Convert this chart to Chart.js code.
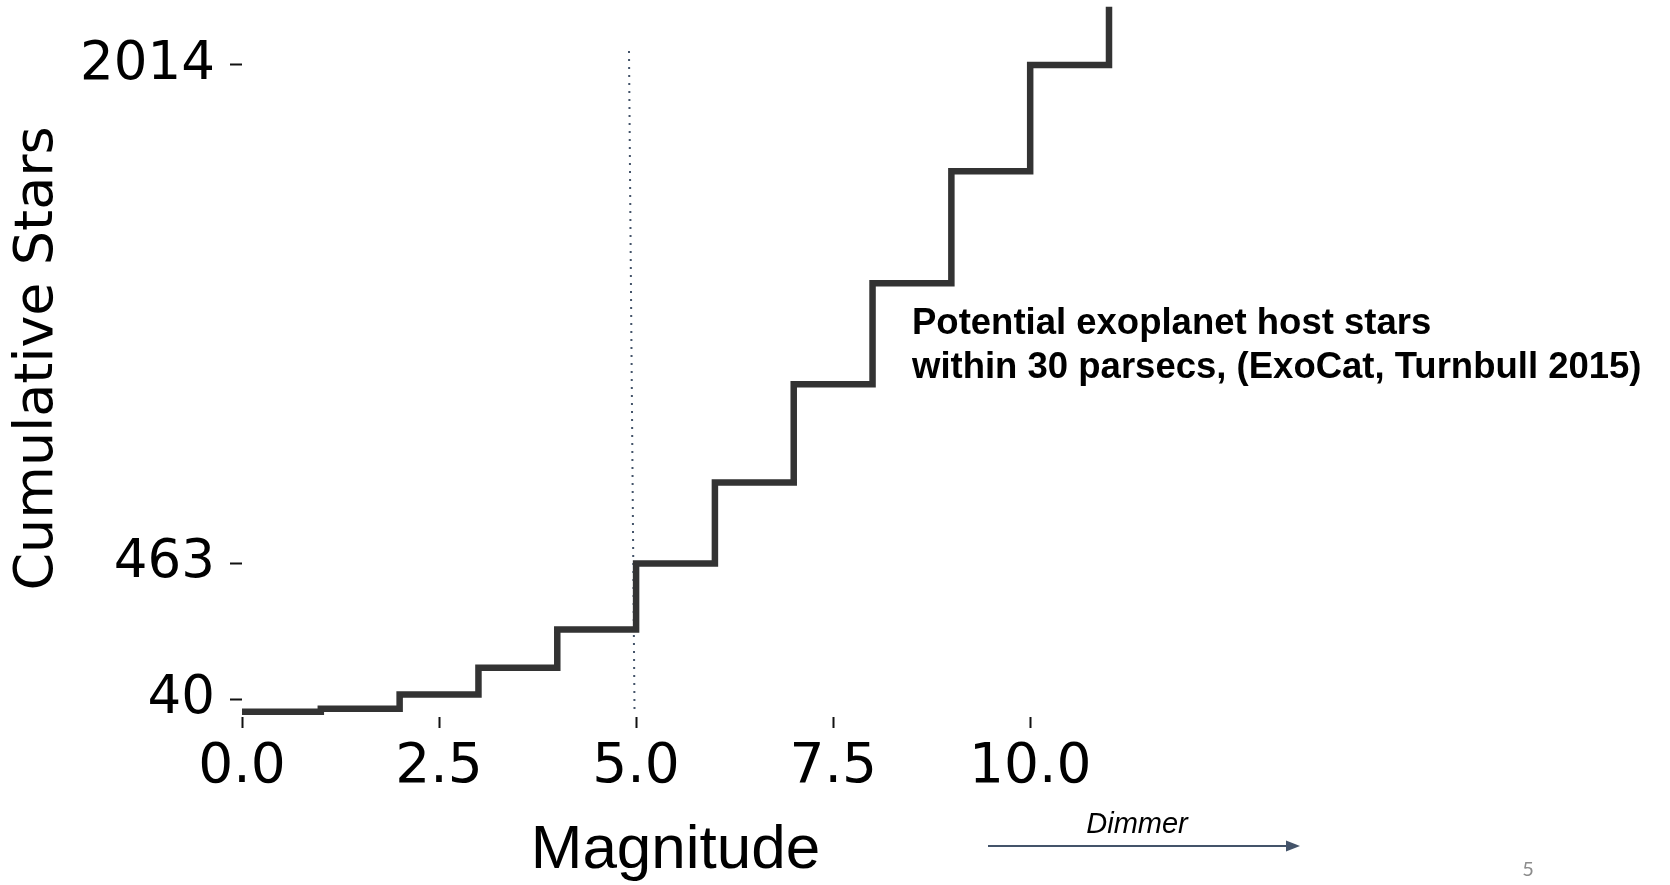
<!DOCTYPE html>
<html>
<head>
<meta charset="utf-8">
<script src="https://cdn.jsdelivr.net/npm/chart.js@4.4.1/dist/chart.umd.min.js"></script>
<style>
  html, body { margin: 0; padding: 0; background: #ffffff; }
  #wrap { width: 1670px; height: 885px; position: relative; }
</style>
</head>
<body>
<div id="wrap"><canvas id="c" width="1670" height="885"></canvas></div>
<script>
// ---- data ----
const magnitudes      = [0, 1, 2, 3, 4, 5, 6, 7, 8, 9, 10, 11];
const cumulativeStars = [1, 11, 55, 138, 257, 463, 715, 1020, 1335, 1683, 2014, 2195];
const xTickValues     = [0, 2.5, 5, 7.5, 10];
const yTickValues     = [40, 463, 2014];
const sunMarkerX      = [4.91, 4.98];
const sunMarkerY      = [2057, 0];
const noteLines       = ['Potential exoplanet host stars', 'within 30 parsecs, (ExoCat, Turnbull 2015)'];
const arrowLabel      = 'Dimmer';
const pageNumber      = '5';

const stepPoints = magnitudes.map((m, i) => ({ x: m, y: cumulativeStars[i] }));
const sunPoints  = sunMarkerX.map((x, i) => ({ x: x, y: sunMarkerY[i] }));

const overlayPlugin = {
  id: 'overlay',
  afterDraw(chart) {
    const ctx = chart.ctx;
    ctx.save();
    // annotation text
    ctx.fillStyle = '#000000';
    ctx.font = 'bold 36.5px "Liberation Sans", Arial, sans-serif';
    ctx.textAlign = 'left';
    ctx.textBaseline = 'alphabetic';
    ctx.fillText(noteLines[0], 912, 334);
    ctx.fillText(noteLines[1], 912, 378);
    // Dimmer label
    ctx.font = 'italic 29px "Liberation Sans", Arial, sans-serif';
    ctx.textAlign = 'center';
    ctx.fillText(arrowLabel, 1137, 833);
    // arrow
    ctx.strokeStyle = '#44546A';
    ctx.fillStyle = '#44546A';
    ctx.lineWidth = 2;
    ctx.beginPath();
    ctx.moveTo(988, 846);
    ctx.lineTo(1288, 846);
    ctx.stroke();
    ctx.beginPath();
    ctx.moveTo(1300, 846);
    ctx.lineTo(1286, 840.5);
    ctx.lineTo(1286, 851.5);
    ctx.closePath();
    ctx.fill();
    // page number
    ctx.fillStyle = '#8c8c8c';
    ctx.font = '20px Lato, "Open Sans", sans-serif';
    ctx.textAlign = 'center';
    ctx.fillText(pageNumber, 1528, 876);
    ctx.restore();
  }
};

new Chart(document.getElementById('c'), {
  type: 'line',
  data: {
    datasets: [
      {
        data: stepPoints,
        stepped: 'before',
        borderColor: '#333333',
        borderWidth: 6.5,
        pointRadius: 0,
        fill: false,
        clip: false,
        borderJoinStyle: 'miter',
        borderCapStyle: 'butt'
      },
      {
        data: sunPoints,
        borderColor: '#44546A',
        borderWidth: 2,
        borderDash: [2, 6],
        pointRadius: 0,
        fill: false,
        clip: false
      }
    ]
  },
  options: {
    responsive: false,
    animation: false,
    events: [],
    layout: { padding: { left: 0, right: 561, top: 0, bottom: 0 } },
    plugins: { legend: { display: false }, tooltip: { enabled: false } },
    scales: {
      x: {
        type: 'linear',
        min: 0,
        max: 11,
        afterBuildTicks: (s) => { s.ticks = xTickValues.map(v => ({ value: v })); },
        ticks: {
          callback: (v) => Number(v).toFixed(1),
          font: { family: 'DejaVu Sans', size: 55 },
          color: '#000000',
          padding: 7,
          maxRotation: 0,
          autoSkip: false
        },
        grid: { drawOnChartArea: false, drawTicks: true, tickLength: 11, tickWidth: 2, tickColor: '#111111' },
        border: { display: false },
        title: {
          display: true,
          text: 'Magnitude',
          font: { family: 'Liberation Sans', size: 62, lineHeight: 1.1 },
          color: '#000000',
          padding: { top: 0, bottom: 0 }
        },
        afterFit: (s) => { s.height = 168; s.paddingLeft = 0; s.paddingRight = 0; }
      },
      y: {
        type: 'linear',
        min: -15,
        max: 2216,
        afterBuildTicks: (s) => { s.ticks = yTickValues.map(v => ({ value: v })); },
        ticks: {
          callback: (v) => String(v),
          font: { family: 'DejaVu Sans', size: 53 },
          color: '#000000',
          padding: 15,
          autoSkip: false
        },
        grid: { drawOnChartArea: false, drawTicks: true, tickLength: 12, tickWidth: 2, tickColor: '#111111' },
        border: { display: false },
        title: {
          display: true,
          text: 'Cumulative Stars',
          font: { family: 'DejaVu Sans', size: 54 },
          color: '#000000',
          padding: { top: 6, bottom: 0 }
        },
        afterFit: (s) => { s.width = 242; s.paddingTop = 0; s.paddingBottom = 0; }
      }
    }
  },
  plugins: [overlayPlugin]
});
</script>
</body>
</html>
